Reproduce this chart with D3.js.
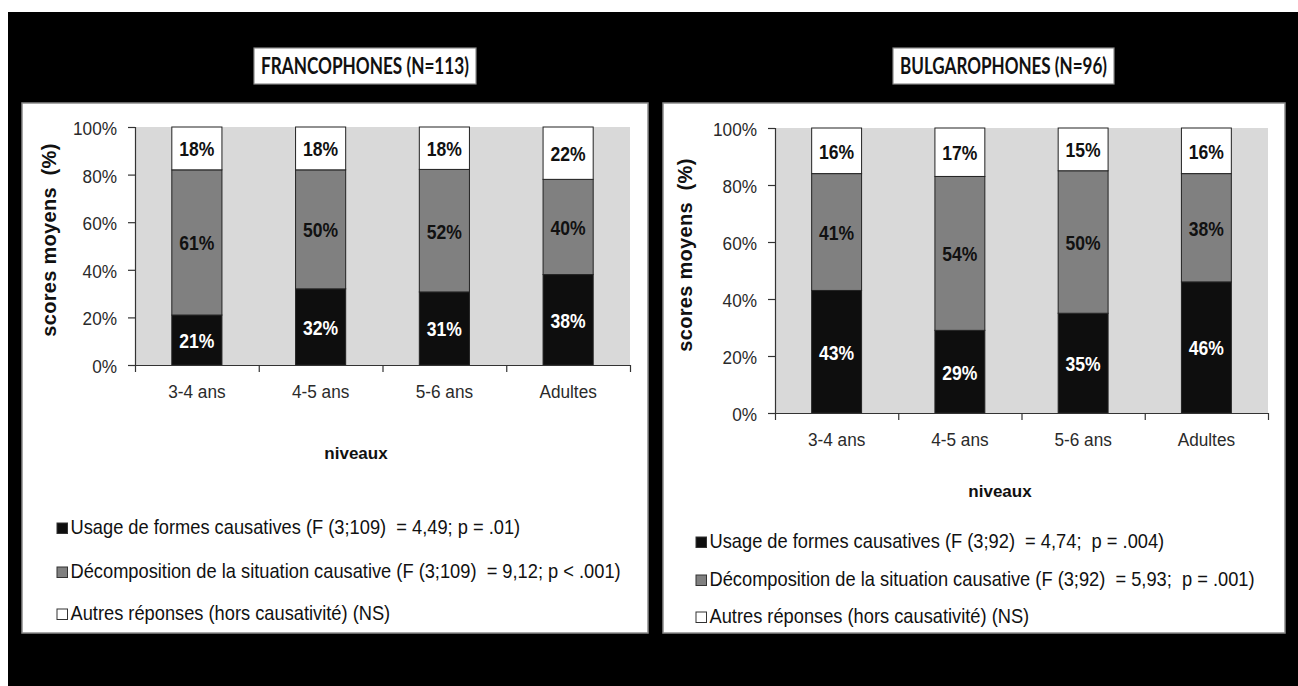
<!DOCTYPE html>
<html><head><meta charset="utf-8">
<script src="https://cdn.jsdelivr.net/npm/d3@7"></script>
<style>
html,body{margin:0;padding:0;background:#fff;}
svg{display:block;}
</style></head>
<body>
<svg id="c" width="1298" height="686"></svg>
<script>
// ---------- DATA ----------
const categories = ["3-4 ans", "4-5 ans", "5-6 ans", "Adultes"];
const seriesKeys = ["usage", "decomp", "autres"];
const francoUsage  = [21, 32, 31, 38];
const francoDecomp = [61, 50, 52, 40];
const francoAutres = [18, 18, 18, 22];
const bulgUsage  = [43, 29, 35, 46];
const bulgDecomp = [41, 54, 50, 38];
const bulgAutres = [16, 17, 15, 16];
const yTickValues = [0, 0.2, 0.4, 0.6, 0.8, 1];
const francoTitle = "FRANCOPHONES (N=113)";
const bulgTitle = "BULGAROPHONES (N=96)";
const francoLegend = [
  "Usage de formes causatives (F (3;109)  = 4,49; p = .01)",
  "Décomposition de la situation causative (F (3;109)  = 9,12; p < .001)",
  "Autres réponses (hors causativité) (NS)"
];
const bulgLegend = [
  "Usage de formes causatives (F (3;92)  = 4,74;  p = .004)",
  "Décomposition de la situation causative (F (3;92)  = 5,93;  p = .001)",
  "Autres réponses (hors causativité) (NS)"
];
const yAxisTitle = "scores moyens  (%)";
const xAxisTitle = "niveaux";

// ---------- STYLE / LAYOUT ----------
const sans = "'Liberation Sans',Arial,sans-serif";
const titleFont = "Lato,'Open Sans',sans-serif";
const colors = {usage: "#0e0e0e", decomp: "#808080", autres: "#ffffff"};
const textColors = {usage: "#ffffff", decomp: "#111", autres: "#111"};

const svg = d3.select("#c");
svg.append("rect").attr("x", 8).attr("y", 12).attr("width", 1290).attr("height", 674).attr("fill", "#000");

function toRows(u, d, a) {
  return categories.map((c, i) => ({cat: c, usage: u[i], decomp: d[i], autres: a[i]}));
}
function narrowText(parent, x, y, k, extra) {
  return parent.append("text").attr("transform", `translate(${x},${y})${extra || ""} scale(${k},1)`);
}
function squeezeTicks(sel, k) {
  sel.each(function () {
    const t = d3.select(this);
    const x = +t.attr("x") || 0;
    t.attr("x", x / k).attr("transform", `scale(${k},1)`);
  });
}

const panels = [
  {
    rows: toRows(francoUsage, francoDecomp, francoAutres),
    title: francoTitle, legend: francoLegend,
    box: [22, 103, 648, 633], titleBox: [254, 48, 476, 84],
    plot: [135, 127, 630, 365],
    yTitle: [56, 240], niv: [356, 459], legendX: 57, legendY: [534, 578, 620]
  },
  {
    rows: toRows(bulgUsage, bulgDecomp, bulgAutres),
    title: bulgTitle, legend: bulgLegend,
    box: [663, 103, 1285, 633], titleBox: [893, 48, 1114, 84],
    plot: [775, 128, 1268, 413],
    yTitle: [692, 255], niv: [1000, 497], legendX: 696, legendY: [548, 586, 623]
  }
];

panels.forEach(p => {
  const [bx0, by0, bx1, by1] = p.box;
  svg.append("rect").attr("x", bx0).attr("y", by0).attr("width", bx1 - bx0).attr("height", by1 - by0)
    .attr("fill", "#fff").attr("stroke", "#8a8a8a").attr("stroke-width", 1.5);

  const [tx0, ty0, tx1, ty1] = p.titleBox;
  svg.append("rect").attr("x", tx0).attr("y", ty0).attr("width", tx1 - tx0).attr("height", ty1 - ty0)
    .attr("fill", "#fff").attr("stroke", "#8a8a8a").attr("stroke-width", 1.2);
  svg.append("text").attr("x", (tx0 + tx1) / 2).attr("y", (ty0 + ty1) / 2 + 8)
    .attr("text-anchor", "middle").attr("font-family", titleFont).attr("font-weight", "bold")
    .attr("font-size", 22).attr("fill", "#111")
    .attr("textLength", tx1 - tx0 - 14).attr("lengthAdjust", "spacingAndGlyphs")
    .text(p.title);

  const [l, t, r, b] = p.plot;
  const x = d3.scaleBand().domain(categories).range([l, r]).paddingInner(0.595).paddingOuter(0.2975);
  const xb = d3.scaleLinear().domain([0, categories.length]).range([l, r]);
  const y = d3.scaleLinear().domain([0, 1]).range([b, t]);

  const g = svg.append("g");
  g.append("rect").attr("x", l).attr("y", t).attr("width", r - l).attr("height", b - t).attr("fill", "#d9d9d9");

  const stack = d3.stack().keys(seriesKeys).offset(d3.stackOffsetExpand);
  const layers = stack(p.rows);

  layers.forEach(layer => {
    const key = layer.key;
    g.selectAll(null).data(layer).enter().append("rect")
      .attr("x", d => x(d.data.cat)).attr("width", x.bandwidth())
      .attr("y", d => y(d[1])).attr("height", d => y(d[0]) - y(d[1]))
      .attr("fill", colors[key]).attr("stroke", "#222").attr("stroke-width", 1);
    layer.forEach(d => {
      narrowText(g, x(d.data.cat) + x.bandwidth() / 2, (y(d[0]) + y(d[1])) / 2 + 8, 0.9)
        .attr("text-anchor", "middle").attr("font-family", sans).attr("font-weight", "bold")
        .attr("font-size", 19.5).attr("fill", textColors[key])
        .text(d.data[key] + "%");
    });
  });

  const ya = g.append("g").attr("transform", `translate(${l},0)`)
    .call(d3.axisLeft(y).tickValues(yTickValues).tickFormat(d => Math.round(d * 100) + "%").tickSize(7).tickPadding(11));
  ya.select(".domain").attr("stroke", "#333").attr("stroke-width", 1.2);
  ya.selectAll(".tick line").attr("stroke", "#333").attr("stroke-width", 1.2);
  ya.selectAll(".tick text").attr("font-family", sans).attr("font-size", 18.5).attr("fill", "#2a2a2a")
    .attr("dy", "0.4em");
  squeezeTicks(ya.selectAll(".tick text"), 0.93);

  const xa = g.append("g").attr("transform", `translate(0,${b})`)
    .call(d3.axisBottom(xb).tickValues(d3.range(categories.length + 1)).tickFormat("").tickSize(7).tickSizeOuter(0));
  xa.select(".domain").attr("stroke", "#333").attr("stroke-width", 1.2);
  xa.selectAll(".tick line").attr("stroke", "#333").attr("stroke-width", 1.2);
  const xl = g.append("g").attr("transform", `translate(0,${b})`)
    .call(d3.axisBottom(x).tickSize(0).tickPadding(20));
  xl.select(".domain").remove();
  xl.selectAll(".tick text").attr("font-family", sans).attr("font-size", 18.5).attr("fill", "#2a2a2a");
  squeezeTicks(xl.selectAll(".tick text"), 0.93);

  narrowText(svg, p.yTitle[0], p.yTitle[1], 1.0, " rotate(-90)")
    .attr("text-anchor", "middle").attr("font-family", sans)
    .attr("font-weight", "bold").attr("font-size", 20).attr("fill", "#111")
    .attr("letter-spacing", 0.3)
    .attr("xml:space", "preserve").style("white-space", "pre")
    .text(yAxisTitle);
  narrowText(svg, p.niv[0], p.niv[1], 1).attr("text-anchor", "middle")
    .attr("font-family", sans).attr("font-weight", "bold")
    .attr("font-size", 17).attr("fill", "#111").text(xAxisTitle);

  p.legend.forEach((txt, i) => {
    const key = seriesKeys[i];
    const ly = p.legendY[i];
    svg.append("rect").attr("x", p.legendX).attr("y", ly - 11).attr("width", 10.5).attr("height", 10.5)
      .attr("fill", colors[key]).attr("stroke", "#333").attr("stroke-width", 1);
    narrowText(svg, p.legendX + 13.5, ly, 0.87)
      .attr("font-family", sans).attr("font-size", 21).attr("fill", "#111")
      .attr("xml:space", "preserve").style("white-space", "pre").text(txt);
  });
});
</script>
</body></html>
